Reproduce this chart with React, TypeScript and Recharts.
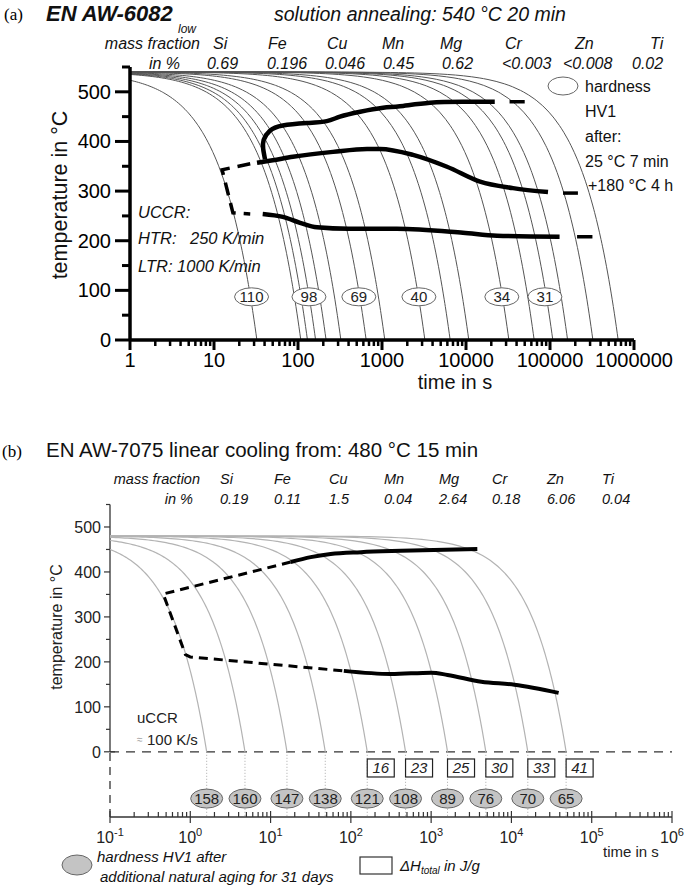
import { ComposedChart, Line, Scatter, XAxis, YAxis, ReferenceLine } from "recharts"

const SANS = "'Liberation Sans', Arial, Helvetica, sans-serif"
const SERIF = "'Liberation Serif', 'Times New Roman', serif"

// ---------- (a) EN AW-6082 low, solution annealed at 540 °C ----------
const startTempA = 540
const coolingRatesA = [1000, 300, 250, 200, 150, 100, 50, 30, 10, 5, 3, 1, 0.5, 0.3, 0.2, 0.1, 0.05] // K/min
const timeDecadesA = [1, 10, 100, 1000, 10000, 100000, 1000000]
const tempLabelsA = [0, 100, 200, 300, 400, 500]
const elementsA = ["Si", "Fe", "Cu", "Mn", "Mg", "Cr", "Zn", "Ti"]
const fractionsA = ["0.69", "0.196", "0.046", "0.45", "0.62", "<0.003", "<0.008", "0.02"]
const hardnessA = [
  { t: 28, T: 87, hv: 110 },
  { t: 135, T: 87, hv: 98 },
  { t: 530, T: 87, hv: 69 },
  { t: 2750, T: 87, hv: 40 },
  { t: 26700, T: 87, hv: 34 },
  { t: 87000, T: 87, hv: 31 },
]
// reaction curves [time s, temperature °C]
const upperA = [[40.5, 364], [38.5, 385], [39, 403], [46, 421], [66, 432], [128, 437], [220, 441], [316, 450], [550, 460], [1030, 468], [1630, 471], [3730, 478], [9200, 480], [22000, 480]]
const upperTailA = [[33000, 480], [50000, 480]]
const middleA = [[32.5, 357], [50, 362], [87, 369], [261, 379], [663, 385], [946, 385], [2340, 373], [5940, 349], [14700, 319], [36300, 306], [94700, 298]]
const middleTailA = [[143000, 296], [215000, 296]]
const lowerA = [[38, 254], [66, 248], [106, 236], [168, 227], [400, 224], [1500, 224], [9200, 216], [23400, 210], [130000, 208]]
const lowerTailA = [[210000, 208], [320000, 208]]
const uccrA = [[27, 355], [12.5, 343], [16.8, 256], [27, 254]]

// ---------- (b) EN AW-7075 linear cooling from 480 °C ----------
const startTempB = 480
const coolingRatesB = [300, 100, 30, 10, 3, 1, 0.3, 0.1, 0.03, 0.01] // K/s
const timeDecadesB = [0.1, 1, 10, 100, 1000, 10000, 100000, 1000000]
const tempLabelsB = [0, 100, 200, 300, 400, 500]
const elementsB = ["Si", "Fe", "Cu", "Mn", "Mg", "Cr", "Zn", "Ti"]
const fractionsB = ["0.19", "0.11", "1.5", "0.04", "2.64", "0.18", "6.06", "0.04"]
const hardnessB = [158, 160, 147, 138, 121, 108, 89, 76, 70, 65]
const enthalpyRatesB = [3, 1, 0.3, 0.1, 0.03, 0.01]
const enthalpyB = [16, 23, 25, 30, 33, 41]
const upperB = [[17.8, 422], [31.6, 433], [56, 440], [133, 444], [422, 447], [3760, 451]]
const uccrB = [[17.8, 422], [0.46, 351], [0.87, 216], [1.0, 211], [81.7, 180]]
const lowerB = [[81.7, 180], [316, 173], [1000, 176], [1600, 171], [4220, 156], [10900, 149], [38700, 131]]

const toPts = (arr: number[][]) => arr.map(([t, T]) => ({ t, T }))

// a linear cooling path T0 -> 0 at a constant rate, sampled for the log time axis
function coolingLine(T0: number, ratePerS: number, tMin: number) {
  const tEnd = T0 / ratePerS
  const lo = Math.log10(tMin)
  const hi = Math.log10(tEnd)
  const ts: number[] = []
  for (let i = 0; i <= 60; i++) ts.push(10 ** (lo + ((hi - lo) * i) / 60))
  for (let k = 1; k < 40; k++) {
    const t = (tEnd * k) / 40
    if (t > tMin) ts.push(t)
  }
  ts.sort((a, b) => a - b)
  return ts.map((t) => ({ t, T: Math.max(0, T0 - ratePerS * t) }))
}

const XTickA = (p: any) => {
  const v = p.payload.value
  const major = timeDecadesA.includes(v)
  return (
    <g>
      <line x1={p.x} x2={p.x} y1={p.y} y2={p.y + (major ? 10 : 6)} stroke="#000" strokeWidth={major ? 3 : 2.5} />
      {major && (
        <text x={p.x} y={p.y + 27} textAnchor="middle" fontSize={20} fontFamily={SANS} fill="#000">
          {String(v)}
        </text>
      )}
    </g>
  )
}

const YTickA = (p: any) => {
  const v = p.payload.value
  const major = v % 100 === 0
  return (
    <g>
      <line x1={p.x - (major ? 15 : 8)} x2={p.x} y1={p.y} y2={p.y} stroke="#000" strokeWidth={3} />
      {major && (
        <text x={p.x - 19} y={p.y + 7} textAnchor="end" fontSize={20} fontFamily={SANS} fill="#000">
          {v}
        </text>
      )}
    </g>
  )
}

const XTickB = (p: any) => {
  const v = p.payload.value
  const major = timeDecadesB.includes(v)
  const exp = Math.round(Math.log10(v))
  return (
    <g>
      <line x1={p.x} x2={p.x} y1={p.y - (major ? 6 : 5)} y2={p.y + (major ? 6 : 0)} stroke="#333" strokeWidth={1.2} />
      {major && (
        <text x={p.x} y={p.y + 26} textAnchor="middle" fontSize={16} fontFamily={SANS} fill="#222">
          10
          <tspan dy={-7} fontSize={11}>
            {exp}
          </tspan>
        </text>
      )}
    </g>
  )
}

const YTickB = (p: any) => {
  const v = p.payload.value
  const major = v % 100 === 0
  return (
    <g>
      <line x1={p.x - (major ? 6 : 4)} x2={p.x + (v === 0 ? 5 : 0)} y1={p.y} y2={p.y} stroke="#333" strokeWidth={1.2} />
      {major && (
        <text x={p.x - 9} y={p.y + 6} textAnchor="end" fontSize={16} fontFamily={SANS} fill="#222">
          {v}
        </text>
      )}
    </g>
  )
}

const EllipseA = (p: any) => (
  <g>
    <ellipse cx={p.cx} cy={p.cy} rx={17} ry={9} fill="#fff" stroke="#666" strokeWidth={1} />
    <text x={p.cx} y={p.cy + 5.5} textAnchor="middle" fontSize={15} fontFamily={SANS} fill="#222">
      {p.payload.hv}
    </text>
  </g>
)

const EllipseB = (p: any) => (
  <g>
    <ellipse cx={p.cx} cy={p.cy} rx={16} ry={9.5} fill="#c4c4c4" stroke="#666" strokeWidth={1} />
    <text x={p.cx} y={p.cy + 5.5} textAnchor="middle" fontSize={15} fontFamily={SANS} fill="#222">
      {p.payload.hv}
    </text>
  </g>
)

const BoxB = (p: any) => (
  <g>
    <rect x={p.cx} y={p.cy - 9} width={27} height={18} fill="#fff" stroke="#222" strokeWidth={1.2} />
    <text x={p.cx + 13.5} y={p.cy + 5.5} textAnchor="middle" fontSize={15} fontStyle="italic" fontFamily={SANS} fill="#222">
      {p.payload.dh}
    </text>
  </g>
)

function ChartA() {
  const ticksX = timeDecadesA.flatMap((d, i) =>
    i === timeDecadesA.length - 1 ? [d] : [1, 2, 3, 4, 5, 6, 7, 8, 9].map((k) => d * k)
  )
  const ticksY = tempLabelsA.flatMap((v) => [v, v + 50])
  const thick = { stroke: "#000", strokeWidth: 4.5, dot: false, activeDot: false, isAnimationActive: false, type: "linear" as const }
  return (
    <ComposedChart width={685} height={400} margin={{ top: 67, right: 51, bottom: 20, left: 70 }}>
      <XAxis type="number" dataKey="t" scale="log" domain={[1, 1000000]} ticks={ticksX} interval={0} allowDataOverflow
        height={40} tickSize={0} tickMargin={0} tickLine={false} axisLine={{ stroke: "#000", strokeWidth: 3.5 }}
        tick={(p: any) => <XTickA {...p} />} />
      <YAxis type="number" dataKey="T" domain={[0, 550]} ticks={ticksY} interval={0} allowDataOverflow
        width={60} tickSize={0} tickMargin={0} tickLine={false} axisLine={{ stroke: "#000", strokeWidth: 3.5 }}
        tick={(p: any) => <YTickA {...p} />} />
      {coolingRatesA.map((r) => (
        <Line key={r} data={coolingLine(startTempA, r / 60, 1)} dataKey="T" stroke="#555" strokeWidth={1}
          dot={false} activeDot={false} isAnimationActive={false} type="linear" />
      ))}
      <Line data={toPts(upperA)} dataKey="T" {...thick} type="natural" />
      <Line data={toPts(upperTailA)} dataKey="T" {...thick} strokeWidth={3.5} />
      <Line data={toPts(middleA)} dataKey="T" {...thick} type="monotone" />
      <Line data={toPts(middleTailA)} dataKey="T" {...thick} strokeWidth={3.5} />
      <Line data={toPts(lowerA)} dataKey="T" {...thick} type="monotone" />
      <Line data={toPts(lowerTailA)} dataKey="T" {...thick} strokeWidth={3.5} />
      <Line data={toPts(uccrA)} dataKey="T" {...thick} strokeWidth={3.5} strokeDasharray="13 8" />
      <Scatter data={hardnessA} dataKey="T" shape={(p: any) => <EllipseA {...p} />} isAnimationActive={false} />
    </ComposedChart>
  )
}

function ChartB() {
  const ticksX = timeDecadesB.flatMap((d, i) =>
    i === timeDecadesB.length - 1 ? [d] : [1, 2, 3, 4, 5, 6, 7, 8, 9].map((k) => d * k)
  )
  const ticksY = tempLabelsB.flatMap((v) => [v, v + 50])
  const thick = { stroke: "#000", strokeWidth: 4, dot: false, activeDot: false, isAnimationActive: false, type: "monotone" as const }
  const ends = coolingRatesB.map((r) => startTempB / r)
  const hardnessPts = hardnessB.map((hv, i) => ({ t: ends[i], T: -104, hv }))
  const enthalpyPts = enthalpyB.map((dh, i) => ({ t: startTempB / enthalpyRatesB[i], T: -36, dh }))
  return (
    <ComposedChart width={685} height={428} margin={{ top: 44.5, right: 13, bottom: 31, left: 50 }}>
      <XAxis type="number" dataKey="t" scale="log" domain={[0.1, 1000000]} ticks={ticksX} interval={0} allowDataOverflow
        height={40} tickSize={0} tickMargin={0} tickLine={false} axisLine={{ stroke: "#333", strokeWidth: 1.5 }}
        tick={(p: any) => <XTickB {...p} />} />
      <YAxis type="number" dataKey="T" domain={[-145, 550]} ticks={ticksY} interval={0} allowDataOverflow
        width={60} tickSize={0} tickMargin={0} tickLine={false} axisLine={false}
        tick={(p: any) => <YTickB {...p} />} />
      <ReferenceLine segment={[{ x: 0.1, y: 0 }, { x: 0.1, y: 550 }]} stroke="#333" strokeWidth={1.3} ifOverflow="visible" />
      <ReferenceLine segment={[{ x: 0.1, y: -145 }, { x: 0.1, y: 0 }]} stroke="#333" strokeWidth={1.3} strokeDasharray="8 6" ifOverflow="visible" />
      <ReferenceLine y={0} stroke="#333" strokeWidth={1.3} strokeDasharray="9 7" ifOverflow="visible" />
      {ends.map((t) => (
        <ReferenceLine key={t} segment={[{ x: t, y: 0 }, { x: t, y: -145 }]} stroke="#aaa" strokeWidth={1} strokeDasharray="1 2" ifOverflow="visible" />
      ))}
      {coolingRatesB.map((r) => (
        <Line key={r} data={coolingLine(startTempB, r, 0.1)} dataKey="T" stroke="#b3b3b3" strokeWidth={1.2}
          dot={false} activeDot={false} isAnimationActive={false} type="linear" />
      ))}
      <Line data={toPts(upperB)} dataKey="T" {...thick} />
      <Line data={toPts(lowerB)} dataKey="T" {...thick} />
      <Line data={toPts(uccrB)} dataKey="T" {...thick} type="linear" strokeWidth={3} strokeDasharray="9 6" />
      <Scatter data={enthalpyPts} dataKey="T" shape={(p: any) => <BoxB {...p} />} isAnimationActive={false} />
      <Scatter data={hardnessPts} dataKey="T" shape={(p: any) => <EllipseB {...p} />} isAnimationActive={false} />
    </ComposedChart>
  )
}

const headXA = [213, 268, 327, 382, 440, 505, 575, 650]
const valXA = [207, 267, 325, 383, 442, 502, 563, 632]
const headXB = [220, 274, 329, 384, 439, 492, 547, 602]

function Labels() {
  const it = { fontFamily: SANS, fontStyle: "italic" as const, fill: "#111" }
  return (
    <svg width={685} height={888} style={{ position: "absolute", left: 0, top: 0, pointerEvents: "none" }}>
      {/* (a) */}
      <text x={4} y={20} fontSize={17} fontFamily={SERIF} fill="#000">(a)</text>
      <text x={46} y={21} fontSize={22} fontWeight="bold" {...it}>EN AW-6082</text>
      <text x={178} y={33} fontSize={12} {...it}>low</text>
      <text x={274} y={21} fontSize={19.5} {...it}>solution annealing: 540 °C 20 min</text>
      <text x={200} y={49} fontSize={16} textAnchor="end" {...it}>mass fraction</text>
      {elementsA.map((e, i) => (
        <text key={e} x={headXA[i]} y={49} fontSize={16} {...it}>{e}</text>
      ))}
      <text x={180} y={69} fontSize={16} textAnchor="end" {...it}>in %</text>
      {fractionsA.map((v, i) => (
        <text key={i} x={valXA[i]} y={69} fontSize={16} {...it}>{v}</text>
      ))}
      <ellipse cx={563} cy={86} rx={15} ry={9} fill="#fff" stroke="#666" />
      {["hardness", "HV1", "after:", "25 °C 7 min"].map((s, i) => (
        <text key={s} x={585} y={92 + i * 25} fontSize={16} fontFamily={SANS} fill="#111">{s}</text>
      ))}
      <text x={588} y={191} fontSize={16} fontFamily={SANS} fill="#111">+180 °C 4 h</text>
      <text x={138} y={218} fontSize={16.5} {...it}>UCCR:</text>
      <text x={138} y={244} fontSize={16.5} {...it}>HTR:</text>
      <text x={190} y={244} fontSize={16.5} {...it}>250 K/min</text>
      <text x={138} y={272} fontSize={16.5} {...it}>LTR: 1000 K/min</text>
      <text x={0} y={0} fontSize={21.5} fontFamily={SANS} fill="#111" textAnchor="middle"
        transform="translate(67 195) rotate(-90)">temperature in °C</text>
      <text x={455} y={389} fontSize={20} fontFamily={SANS} fill="#111" textAnchor="middle">time in s</text>

      {/* (b) */}
      <text x={2} y={457} fontSize={17} fontFamily={SERIF} fill="#000">(b)</text>
      <text x={46} y={457} fontSize={20.5} fontFamily={SANS} fill="#111">EN AW-7075 linear cooling from: 480 °C 15 min</text>
      <text x={200} y={484} fontSize={14.5} textAnchor="end" {...it}>mass fraction</text>
      {elementsB.map((e, i) => (
        <text key={e} x={headXB[i]} y={484} fontSize={14.5} {...it}>{e}</text>
      ))}
      <text x={193} y={504} fontSize={14.5} textAnchor="end" {...it}>in %</text>
      {fractionsB.map((v, i) => (
        <text key={i} x={headXB[i]} y={504} fontSize={14.5} {...it}>{v}</text>
      ))}
      <text x={0} y={0} fontSize={16} fontFamily={SANS} fill="#222" textAnchor="middle"
        transform="translate(62 627) rotate(-90)">temperature in °C</text>
      <text x={137} y={723} fontSize={15} fontFamily={SANS} fill="#222">uCCR</text>
      <text x={137} y={743} fontSize={10} fontFamily={SANS} fill="#999">≈</text>
      <text x={147} y={745} fontSize={15} fontFamily={SANS} fill="#222">100 K/s</text>
      <text x={603} y={857} fontSize={15} fontFamily={SANS} fill="#222">time in s</text>
      <ellipse cx={77} cy={865} rx={15} ry={10} fill="#c4c4c4" stroke="#666" />
      <text x={97} y={862} fontSize={15} {...it}>hardness HV1 after</text>
      <text x={100} y={882} fontSize={15} {...it}>additional natural aging for 31 days</text>
      <rect x={360} y={857} width={32} height={17} fill="#fff" stroke="#333" strokeWidth={1.2} />
      <text x={400} y={871} fontSize={15} {...it}>
        ΔH<tspan fontSize={10} dy={3}>total</tspan>
        <tspan dy={-3}> in J/g</tspan>
      </text>
    </svg>
  )
}

export default function App() {
  return (
    <div style={{ position: "absolute", left: 0, top: 0, width: 685, height: 888, background: "#fff", overflow: "hidden" }}>
      <div style={{ position: "absolute", left: 0, top: 0 }}>
        <ChartA />
      </div>
      <div style={{ position: "absolute", left: 0, top: 460 }}>
        <ChartB />
      </div>
      <Labels />
    </div>
  )
}
